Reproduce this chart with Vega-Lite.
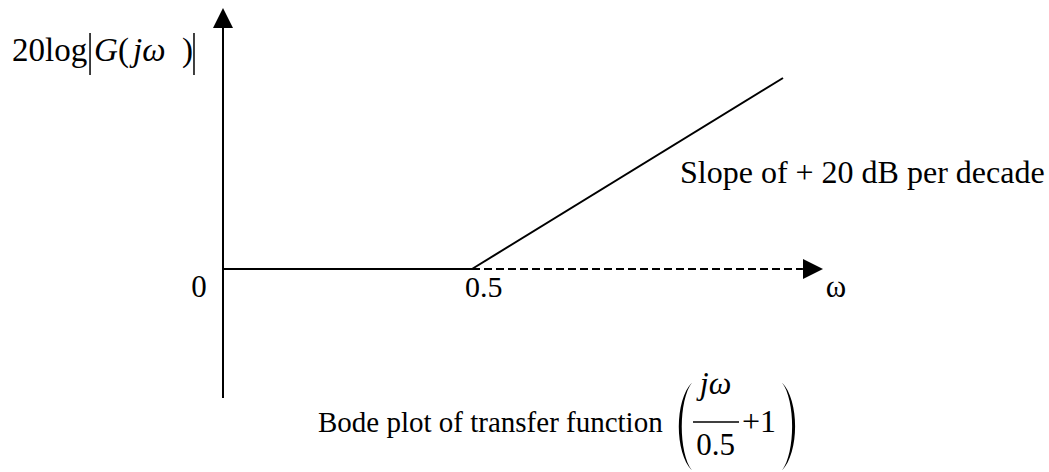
{
  "$schema": "https://vega.github.io/schema/vega-lite/v6.json",
  "width": 1049,
  "height": 472,
  "autosize": {"type": "fit", "contains": "padding"},
  "padding": 0,
  "background": "white",
  "config": {"view": {"stroke": null}},
  "datasets": {
    "thick": [
      {"part": "vertical axis", "x": 0, "y": -12.9, "x2": 0, "y2": 24.1},
      {"part": "flat asymptote", "x": 0, "y": 0, "x2": 1.0, "y2": 0},
      {"part": "+20 dB/decade asymptote", "x": 1.0, "y": 0, "x2": 2.249, "y2": 19.1}
    ],
    "dashed": [
      {"part": "omega axis", "x": 1.0, "y": 0, "x2": 2.329, "y2": 0}
    ],
    "thin": [
      {"part": "abs bar left", "x": -0.534, "y": 23.6, "x2": -0.534, "y2": 19.4},
      {"part": "abs bar right", "x": -0.1165, "y": 23.6, "x2": -0.1165, "y2": 19.4},
      {"part": "fraction bar", "x": 1.8876, "y": -15.3, "x2": 2.0723, "y2": -15.3}
    ],
    "uparrow": [{"x": 0, "y": 25.1}],
    "rightarrow": [{"x": 2.3695, "y": 0}],
    "lparen": [{"x": 1.8554, "y": -15.75}],
    "rparen": [{"x": 2.273, "y": -15.75}],
    "labels": [
      {"g": "A", "text": "20log", "x": -0.8474, "y": 20.8},
      {"g": "A", "text": "(", "x": -0.4217, "y": 20.8},
      {"g": "A", "text": ")", "x": -0.1647, "y": 20.8},
      {"g": "B", "text": "G", "x": -0.518, "y": 20.8},
      {"g": "B", "text": "jω", "x": -0.3614, "y": 20.8},
      {"g": "C", "text": "0", "x": -0.0964, "y": -2.8},
      {"g": "C", "text": "ω", "x": 2.4618, "y": -2.8},
      {"g": "D", "text": "0.5", "x": 0.9719, "y": -2.8},
      {"g": "E", "text": "Slope of + 20 dB per decade", "x": 1.8353, "y": 8.6},
      {"g": "F", "text": "Bode plot of transfer function", "x": 0.3815, "y": -16.3},
      {"g": "I", "text": "+1", "x": 2.0844, "y": -16.3},
      {"g": "G", "text": "0.5", "x": 1.978, "y": -18.6},
      {"g": "H", "text": "jω", "x": 1.978, "y": -12.5}
    ]
  },
  "encoding": {
    "x": {"field": "x", "type": "quantitative", "axis": null,
          "scale": {"domain": [-0.89558, 3.31727], "nice": false, "zero": false}},
    "y": {"field": "y", "type": "quantitative", "axis": null,
          "scale": {"domain": [-20.3, 26.9], "nice": false, "zero": false}}
  },
  "layer": [
    {"data": {"name": "thick"}, "mark": {"type": "rule", "color": "black", "strokeWidth": 2},
     "encoding": {"x2": {"field": "x2"}, "y2": {"field": "y2"}}},
    {"data": {"name": "dashed"}, "mark": {"type": "rule", "color": "black", "strokeWidth": 2, "strokeDash": [8, 4]},
     "encoding": {"x2": {"field": "x2"}, "y2": {"field": "y2"}}},
    {"data": {"name": "thin"}, "mark": {"type": "rule", "color": "black", "strokeWidth": 1.5},
     "encoding": {"x2": {"field": "x2"}, "y2": {"field": "y2"}}},
    {"data": {"name": "uparrow"}, "mark": {"type": "point", "shape": "M0,-1L1,1L-1,1Z", "size": 400, "filled": true, "color": "black", "opacity": 1}},
    {"data": {"name": "rightarrow"}, "mark": {"type": "point", "shape": "M1,0L-1,-1L-1,1Z", "size": 400, "filled": true, "color": "black", "opacity": 1}},
    {"data": {"name": "lparen"}, "mark": {"type": "point", "shape": "M0.16,-1C-0.24,-0.6,-0.24,0.6,0.16,1C-0.15,0.6,-0.15,-0.6,0.16,-1Z", "size": 7744, "filled": true, "color": "black", "opacity": 1}},
    {"data": {"name": "rparen"}, "mark": {"type": "point", "shape": "M-0.16,-1C0.24,-0.6,0.24,0.6,-0.16,1C0.15,0.6,0.15,-0.6,-0.16,-1Z", "size": 7744, "filled": true, "color": "black", "opacity": 1}},
    {"data": {"name": "labels"}, "transform": [{"filter": "datum.g === 'A'"}],
     "mark": {"type": "text", "font": "Liberation Serif", "fontSize": 33, "align": "left", "baseline": "alphabetic", "color": "black"},
     "encoding": {"text": {"field": "text"}}},
    {"data": {"name": "labels"}, "transform": [{"filter": "datum.g === 'B'"}],
     "mark": {"type": "text", "font": "Liberation Serif", "fontStyle": "italic", "fontSize": 33, "align": "left", "baseline": "alphabetic", "color": "black"},
     "encoding": {"text": {"field": "text"}}},
    {"data": {"name": "labels"}, "transform": [{"filter": "datum.g === 'C'"}],
     "mark": {"type": "text", "font": "Liberation Serif", "fontSize": 31, "align": "center", "baseline": "alphabetic", "color": "black"},
     "encoding": {"text": {"field": "text"}}},
    {"data": {"name": "labels"}, "transform": [{"filter": "datum.g === 'D'"}],
     "mark": {"type": "text", "font": "Liberation Serif", "fontSize": 30, "align": "left", "baseline": "alphabetic", "color": "black"},
     "encoding": {"text": {"field": "text"}}},
    {"data": {"name": "labels"}, "transform": [{"filter": "datum.g === 'E'"}],
     "mark": {"type": "text", "font": "Liberation Serif", "fontSize": 32, "align": "left", "baseline": "alphabetic", "color": "black"},
     "encoding": {"text": {"field": "text"}}},
    {"data": {"name": "labels"}, "transform": [{"filter": "datum.g === 'F'"}],
     "mark": {"type": "text", "font": "Liberation Serif", "fontSize": 29, "align": "left", "baseline": "alphabetic", "color": "black"},
     "encoding": {"text": {"field": "text"}}},
    {"data": {"name": "labels"}, "transform": [{"filter": "datum.g === 'I'"}],
     "mark": {"type": "text", "font": "Liberation Serif", "fontSize": 32, "align": "left", "baseline": "alphabetic", "color": "black"},
     "encoding": {"text": {"field": "text"}}},
    {"data": {"name": "labels"}, "transform": [{"filter": "datum.g === 'G'"}],
     "mark": {"type": "text", "font": "Liberation Serif", "fontSize": 31, "align": "center", "baseline": "alphabetic", "color": "black"},
     "encoding": {"text": {"field": "text"}}},
    {"data": {"name": "labels"}, "transform": [{"filter": "datum.g === 'H'"}],
     "mark": {"type": "text", "font": "Liberation Serif", "fontStyle": "italic", "fontSize": 32, "align": "center", "baseline": "alphabetic", "color": "black"},
     "encoding": {"text": {"field": "text"}}}
  ]
}
